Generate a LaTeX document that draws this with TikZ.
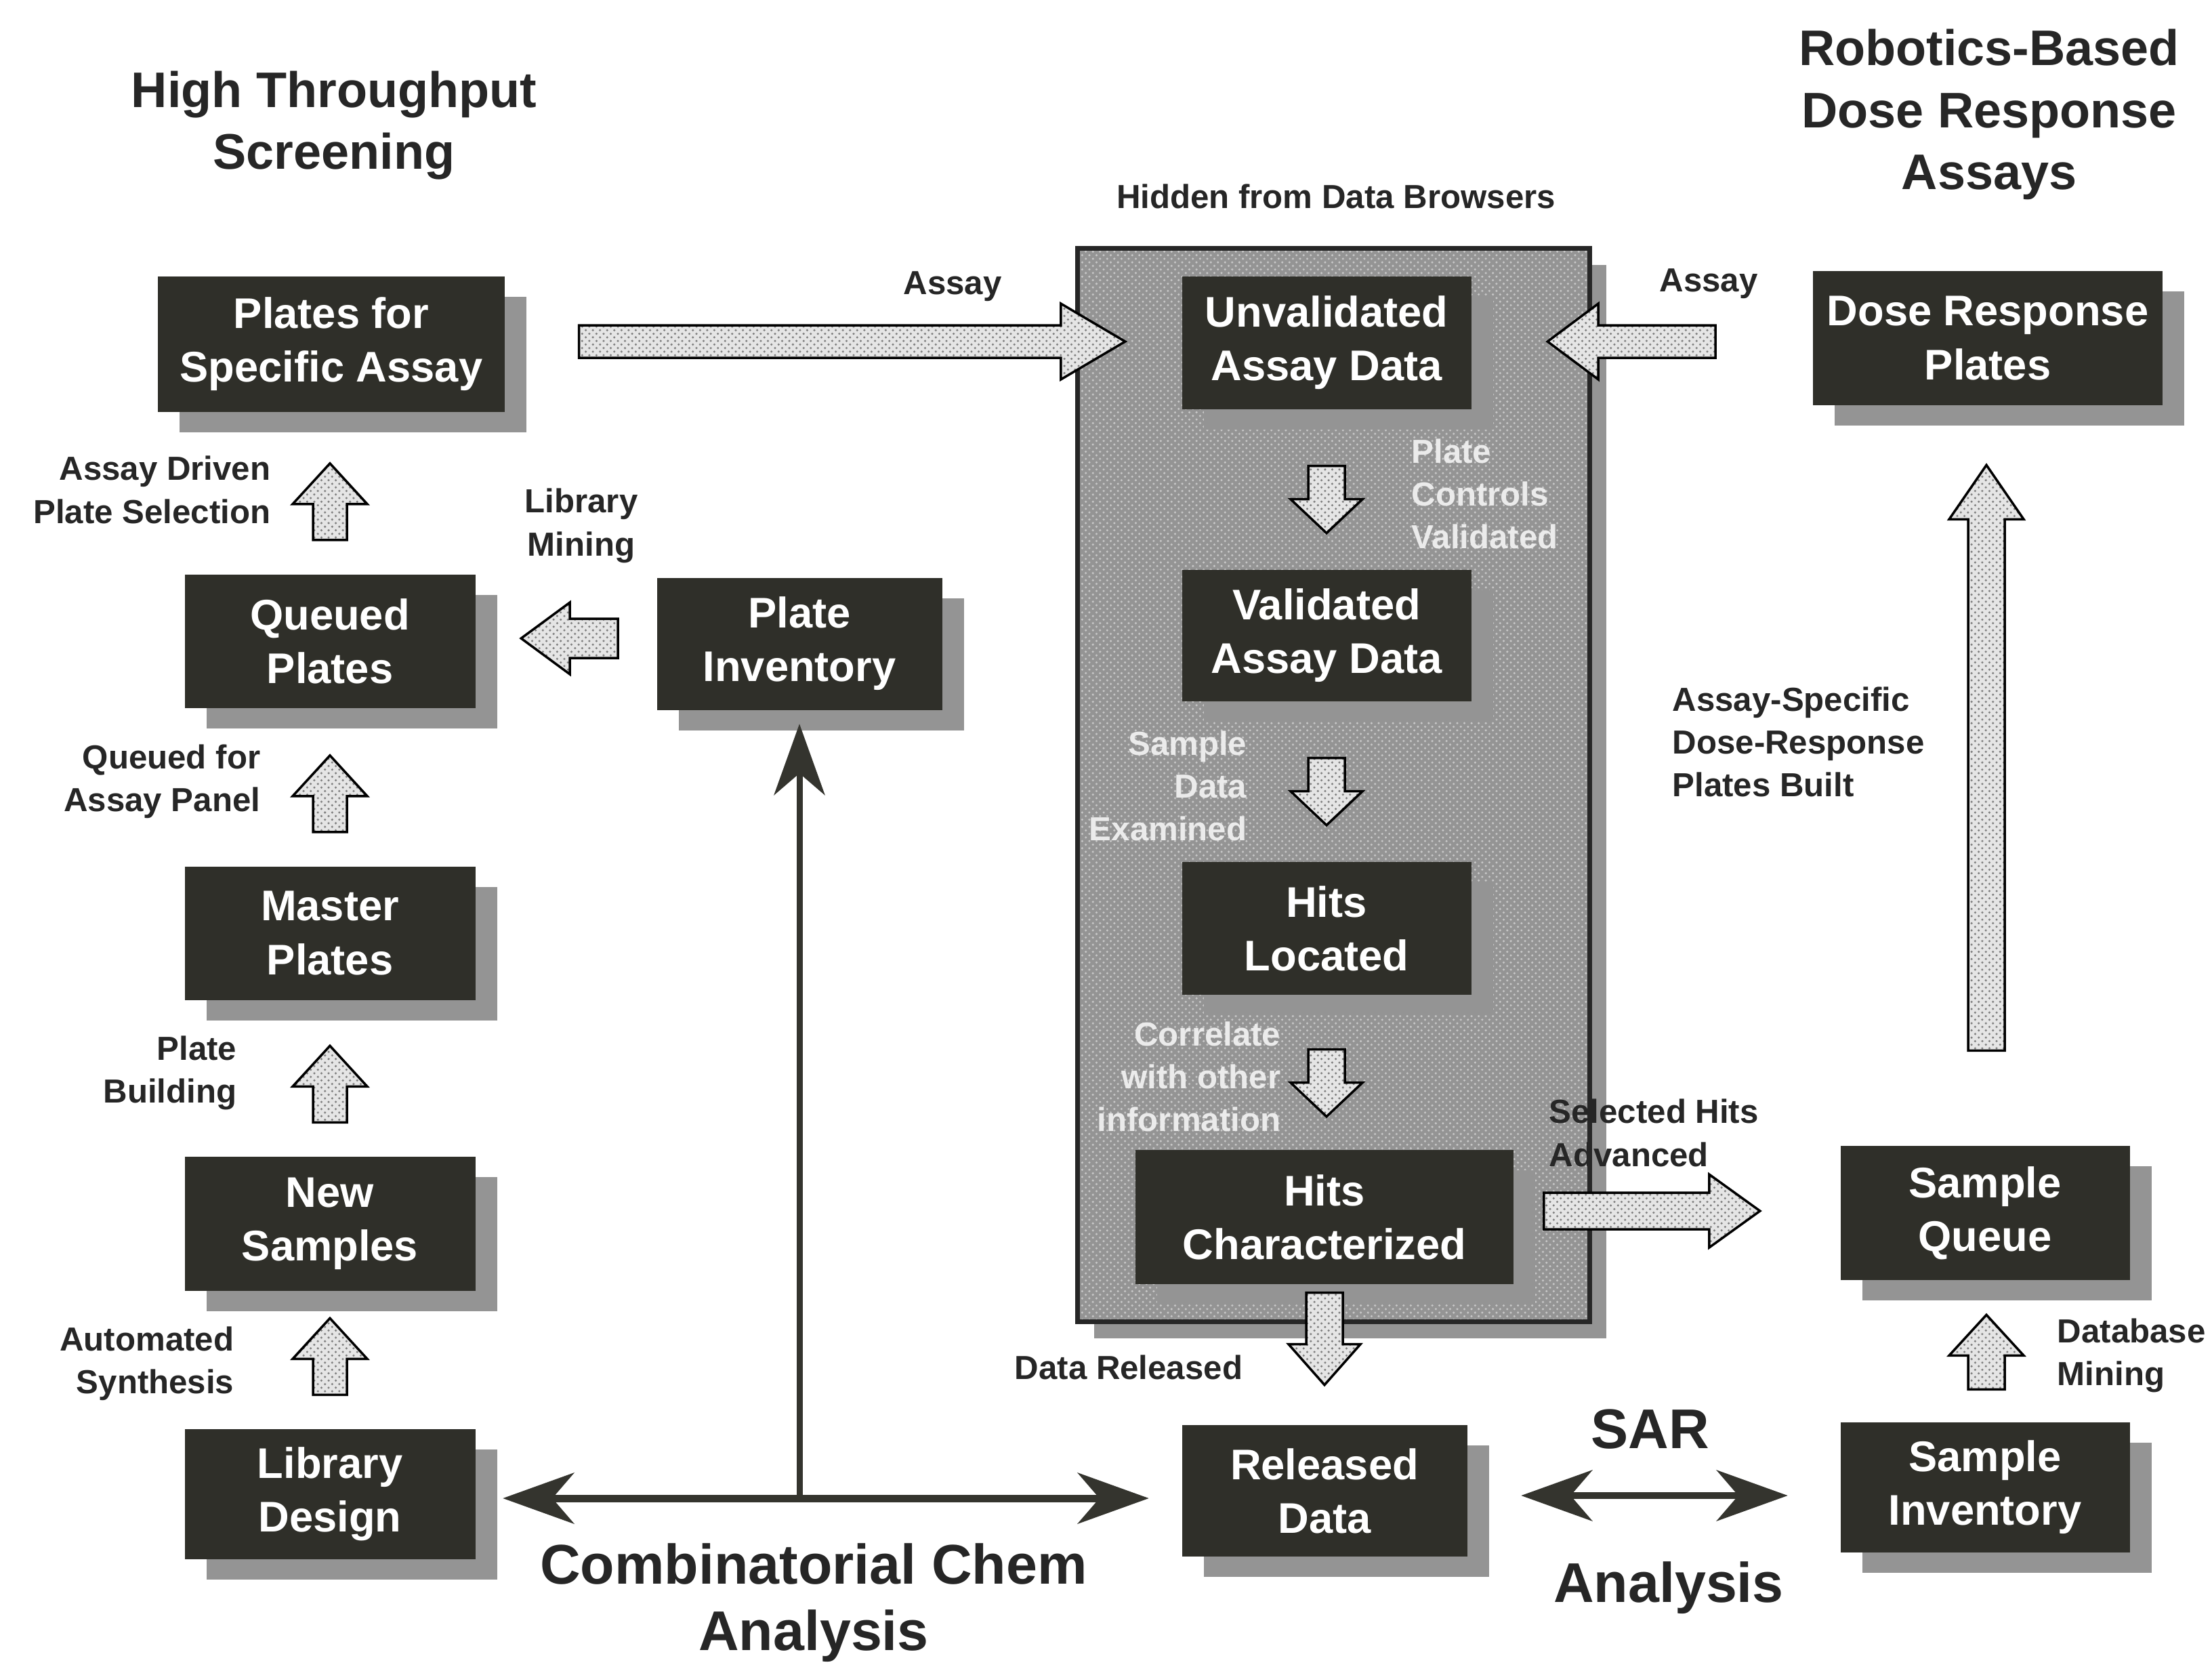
\documentclass[tikz,border=0pt]{standalone}
\usepackage{fontspec}
\setmainfont{Liberation Sans}
\usetikzlibrary{arrows.meta,patterns,calc,shadows}
\definecolor{boxdark}{HTML}{2F2F29}
\definecolor{linedark}{HTML}{34342E}
\tikzset{
  dotshadow/.style={general shadow={shadow xshift=0.32cm, shadow yshift=-0.30cm, fill=black!42}},
  box/.style={fill=boxdark, text=white, font=\fontsize{18}{22.5}\selectfont\bfseries, align=center, inner sep=0pt, dotshadow},
  panelbox/.style={draw=black!85, line width=0.07cm, preaction={fill=black!42}, pattern=crosshatch dots, pattern color=black!22, inner sep=0pt,
     general shadow={shadow xshift=0.25cm, shadow yshift=-0.25cm, fill=black!42}},
  barrow/.style={draw=black, line width=0.035cm, line join=miter, preaction={fill=black!10}, pattern=crosshatch dots, pattern color=black!50},
  lbl/.style={font=\fontsize{14}{18}\selectfont\bfseries, text=black!85, inner sep=0pt},
  wlbl/.style={font=\fontsize{14}{18}\selectfont\bfseries, text=white!92!black, inner sep=0pt},
  title/.style={font=\fontsize{21}{26}\selectfont\bfseries, text=black!85, align=center, inner sep=0pt},
  big/.style={font=\fontsize{23.5}{28}\selectfont\bfseries, text=black!85, align=center, inner sep=0pt},
  thinarr/.style={draw=linedark, line width=0.11cm},
  tip/.tip={Stealth[length=1.05cm, width=0.75cm, inset=0.32cm]}
}
% block arrow: start, tip, shaft half width, head half width, head length
\newcommand\blockarr[5]{%
  \coordinate (ba-s) at (#1);
  \coordinate (ba-t) at (#2);
  \coordinate (ba-h) at ($(ba-t)!#5!(ba-s)$);
  \draw[barrow] ($(ba-s)!#3!90:(ba-t)$) -- ($(ba-h)!#3!90:(ba-t)$) -- ($(ba-h)!#4!90:(ba-t)$) -- (ba-t)
     -- ($(ba-h)!#4!-90:(ba-t)$) -- ($(ba-h)!#3!-90:(ba-t)$) -- ($(ba-s)!#3!-90:(ba-t)$) -- cycle;
}
\begin{document}
\begin{tikzpicture}
\useasboundingbox[fill=white] (0,0) rectangle (32.65,-24.59);

% central panel
\node[panelbox, minimum width=7.56cm, minimum height=15.84cm] (panel) at (19.68,-11.58) {};

% boxes
\node[box, minimum width=5.12cm, minimum height=2.00cm] (psa) at (4.89,-5.08) {Plates for\\Specific Assay};
\node[box, minimum width=4.29cm, minimum height=1.97cm] (qp) at (4.87,-9.46) {Queued\\Plates};
\node[box, minimum width=4.29cm, minimum height=1.97cm] (mp) at (4.87,-13.77) {Master\\Plates};
\node[box, minimum width=4.29cm, minimum height=1.98cm] (ns) at (4.87,-18.06) {New\\Samples};
\node[box, minimum width=4.29cm, minimum height=1.92cm] (ld) at (4.87,-22.05) {Library\\Design};
\node[box, minimum width=4.21cm, minimum height=1.95cm] (pi) at (11.80,-9.50) {Plate\\Inventory};
\node[box, minimum width=4.27cm, minimum height=1.96cm] (uad) at (19.58,-5.06) {Unvalidated\\Assay Data};
\node[box, minimum width=4.27cm, minimum height=1.94cm] (vad) at (19.58,-9.38) {Validated\\Assay Data};
\node[box, minimum width=4.27cm, minimum height=1.96cm] (hl) at (19.58,-13.70) {Hits\\Located};
\node[box, minimum width=5.58cm, minimum height=1.98cm] (hc) at (19.55,-17.96) {Hits\\Characterized};
\node[box, minimum width=4.21cm, minimum height=1.94cm] (rd) at (19.55,-22.00) {Released\\Data};
\node[box, minimum width=5.16cm, minimum height=1.98cm] (drp) at (29.34,-4.99) {Dose Response\\Plates};
\node[box, minimum width=4.27cm, minimum height=1.98cm] (sq) at (29.30,-17.90) {Sample\\Queue};
\node[box, minimum width=4.27cm, minimum height=1.92cm] (si) at (29.30,-21.95) {Sample\\Inventory};

% block arrows
\blockarr{$(psa.east)+(1.09,0.04)$}{$(uad.west |- psa.east)+(-0.83,0.04)$}{0.24cm}{0.56cm}{0.95cm}
\blockarr{$(uad.east)+(3.60,0.02)$}{$(uad.east)+(1.12,0.02)$}{0.24cm}{0.56cm}{0.75cm}
\blockarr{$(qp.north)+(0,0.50)$}{$(qp.north)+(0,1.63)$}{0.25cm}{0.55cm}{0.60cm}
\blockarr{$(mp.north)+(0,0.50)$}{$(mp.north)+(0,1.63)$}{0.25cm}{0.55cm}{0.60cm}
\blockarr{$(ns.north)+(0,0.50)$}{$(ns.north)+(0,1.63)$}{0.25cm}{0.55cm}{0.60cm}
\blockarr{$(ld.north)+(0,0.50)$}{$(ld.north)+(0,1.63)$}{0.25cm}{0.55cm}{0.60cm}
\blockarr{$(qp.east)+(2.10,0.04)$}{$(qp.east)+(0.67,0.04)$}{0.29cm}{0.53cm}{0.72cm}
\blockarr{$(uad.south)+(0,-0.83)$}{$(uad.south)+(0,-1.82)$}{0.27cm}{0.53cm}{0.50cm}
\blockarr{$(vad.south)+(0,-0.83)$}{$(vad.south)+(0,-1.82)$}{0.27cm}{0.53cm}{0.50cm}
\blockarr{$(hl.south)+(0,-0.80)$}{$(hl.south)+(0,-1.79)$}{0.27cm}{0.53cm}{0.50cm}
\blockarr{$(hc.south)+(0,-0.12)$}{$(hc.south)+(0,-1.48)$}{0.27cm}{0.53cm}{0.60cm}
\blockarr{$(sq.west)+(-4.37,0.03)$}{$(sq.west)+(-1.18,0.03)$}{0.27cm}{0.54cm}{0.75cm}
\blockarr{$(sq.north)+(0.02,1.40)$}{$(sq.north)+(0.02,10.04)$}{0.27cm}{0.55cm}{0.80cm}
\blockarr{$(si.north)+(0.02,0.48)$}{$(si.north)+(0.02,1.58)$}{0.27cm}{0.55cm}{0.60cm}

% thin double arrows
\coordinate (cl) at ($(ld.east)+(0.40,-0.06)$);
\coordinate (cr) at ($(cl -| rd.west)+(-0.48,0)$);
\coordinate (cj) at (cl -| pi.south);
\draw[thinarr, line width=0.09cm, -tip] (cj) -- ($(pi.south)+(0,-0.20)$);
\draw[thinarr, tip-tip] (cl) -- (cr);
\coordinate (sl) at ($(rd.east)+(0.79,-0.07)$);
\coordinate (sr) at ($(sl -| si.west)+(-0.77,0)$);
\draw[thinarr, line width=0.10cm, tip-tip] (sl) -- (sr);

% titles
\node[title] (t1) at (4.93,-1.85) {High Throughput\\Screening};
\node[title] (t2) at (29.36,-1.69) {Robotics-Based\\Dose Response\\Assays};
\node[lbl] (hid) at (19.72,-2.90) {Hidden from Data Browsers};

% labels
\node[lbl] (as1) at (14.06,-4.23) {Assay};
\node[lbl] (as2) at (25.22,-4.19) {Assay};
\node[lbl, align=right, anchor=east] (l1) at (4.00,-7.23) {Assay Driven\\Plate Selection};
\node[lbl, align=center] (l2) at (8.58,-7.76) {Library\\Mining};
\node[lbl, align=right, anchor=east] (l3) at (3.85,-11.53) {Queued for\\Assay Panel};
\node[lbl, align=right, anchor=east] (l4) at (3.50,-15.83) {Plate\\Building};
\node[lbl, align=right, anchor=east] (l5) at (3.46,-20.12) {Automated\\Synthesis};
\node[wlbl, align=left, anchor=west] (w1) at (20.83,-7.29) {Plate\\Controls\\Validated};
\node[wlbl, align=right, anchor=east] (w2) at (18.41,-11.60) {Sample\\Data\\Examined};
\node[wlbl, align=right, anchor=east] (w3) at (18.91,-15.89) {Correlate\\with other\\information};
\node[lbl] (l6) at (16.66,-20.18) {Data Released};
\node[lbl, align=left, anchor=west] (l7) at (22.86,-16.72) {Selected Hits\\Advanced};
\node[lbl, align=left, anchor=west] (l8) at (24.68,-10.95) {Assay-Specific\\Dose-Response\\Plates Built};
\node[lbl, align=left, anchor=west] (l9) at (30.36,-20.00) {Database\\Mining};
\node[big] (cc) at (12.01,-23.65) {Combinatorial Chem\\Analysis};
\node[big] (sar) at (24.36,-21.09) {SAR};
\node[big] (ana) at (24.63,-23.43) {Analysis};
\end{tikzpicture}
\end{document}
